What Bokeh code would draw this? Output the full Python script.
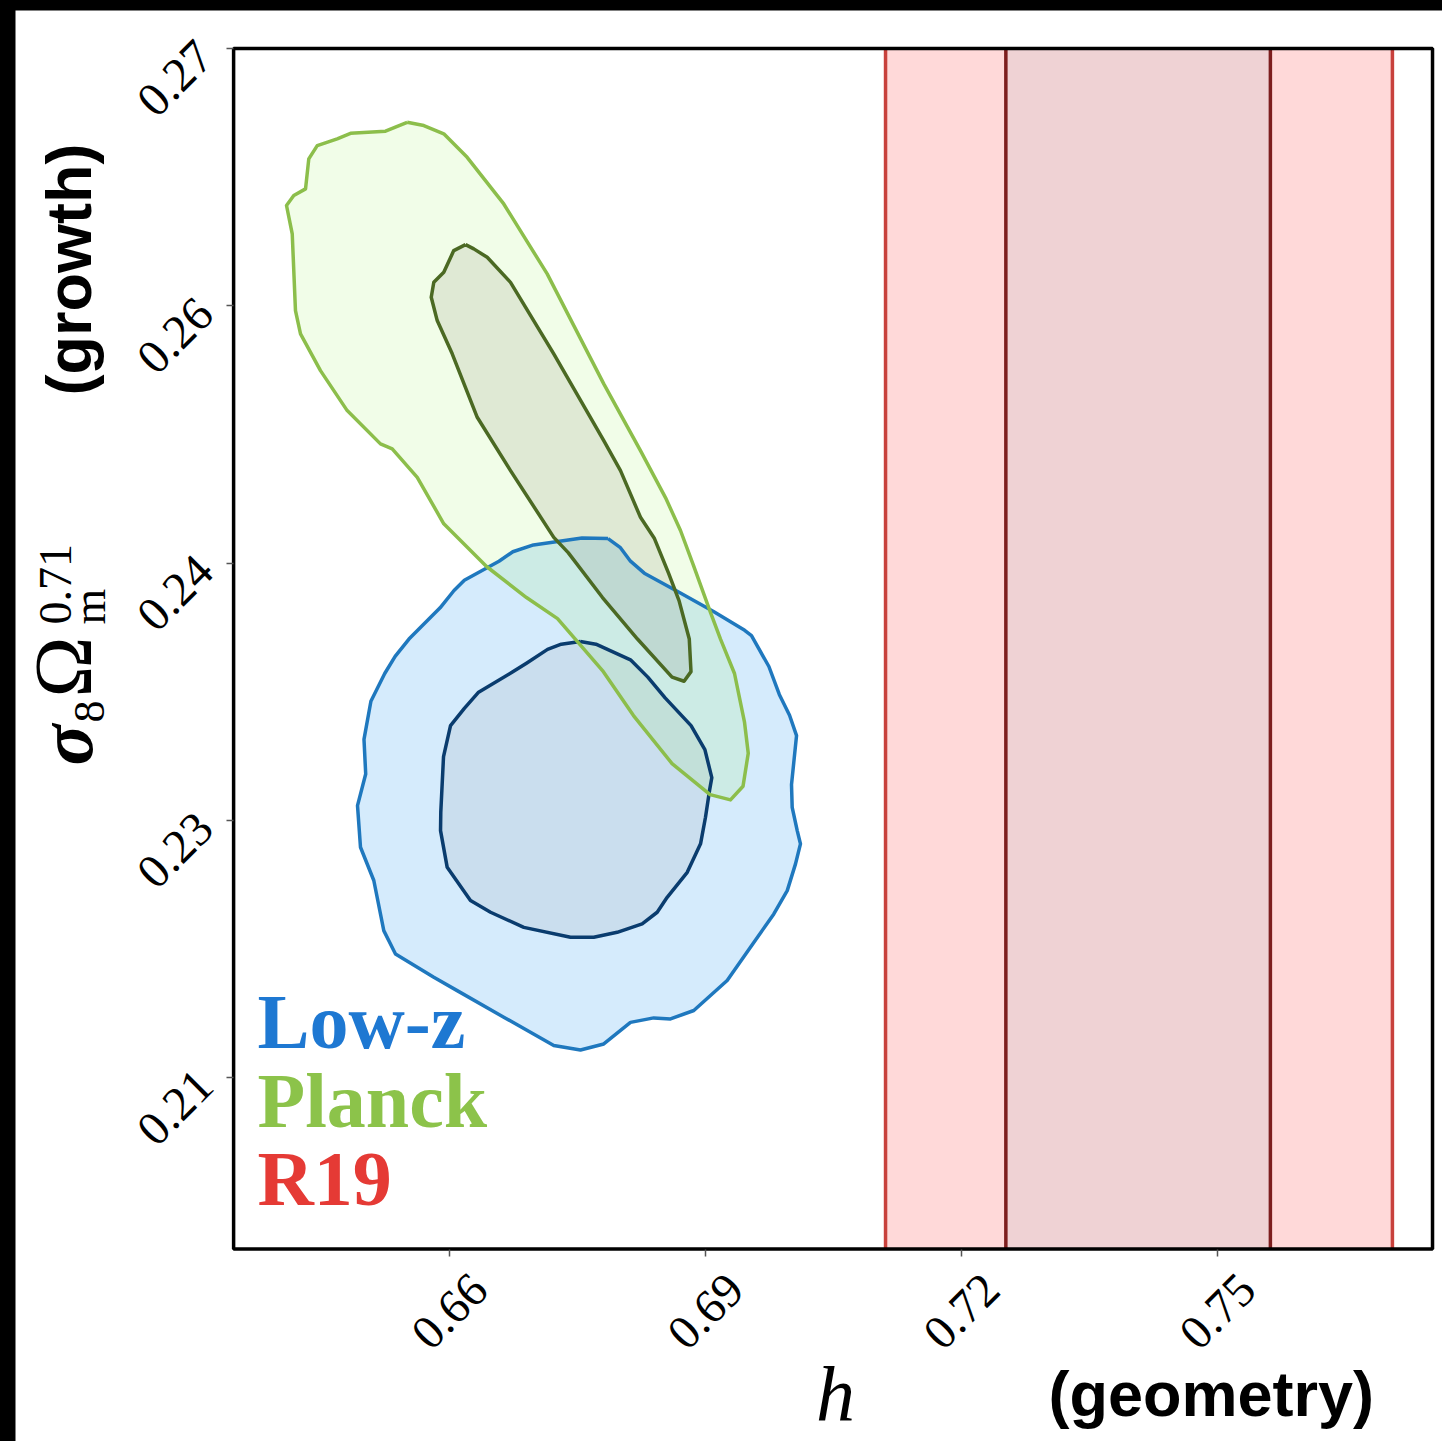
import math
from bokeh.plotting import figure
from bokeh.models import Range1d, FixedTicker, Label, LabelSet, ColumnDataSource
from bokeh.embed import file_html
from bokeh.resources import INLINE
from bokeh.core.properties import value

# ---------------- axis box / ticks ----------------
x_lo, x_hi = 0.6347, 0.7752          # plotted h range (box)
y_lo, y_hi = 0.2000, 0.2700          # plotted sigma8*Om^0.71 range (box)
x_view = (0.60914, 0.77637)          # whole canvas in data units (room for labels)
y_view = (0.18878, 0.27222)
x_ticks = [0.66, 0.69, 0.72, 0.75]
x_tick_labels = ["0.66", "0.69", "0.72", "0.75"]
y_ticks = [0.21, 0.225, 0.24, 0.255, 0.27]
y_tick_labels = ["0.21", "0.23", "0.24", "0.26", "0.27"]

# ---------------- Low-z contours ----------------
lowz_2sig_h = [0.67858, 0.67553, 0.67269, 0.66984, 0.66742, 0.66580, 0.66174, 0.66053, 0.65890, 0.65525,
               0.65363, 0.65241, 0.65079, 0.64998, 0.65018, 0.64922, 0.64957, 0.65113, 0.65230, 0.65367,
               0.65816, 0.66090, 0.66636, 0.67222, 0.67535, 0.67808, 0.68121, 0.68394, 0.68590, 0.68863,
               0.69254, 0.69527, 0.69801, 0.69958, 0.70055, 0.70113, 0.70075, 0.70016, 0.70008, 0.70067,
               0.69985, 0.69865, 0.69743, 0.69539, 0.69459, 0.69094, 0.68690, 0.68283, 0.68121, 0.67999]
lowz_2sig_s = [0.24143, 0.24146, 0.24126, 0.24106, 0.24066, 0.24011, 0.23900, 0.23840, 0.23739, 0.23557,
               0.23456, 0.23356, 0.23194, 0.22972, 0.22770, 0.22586, 0.22343, 0.22149, 0.21857, 0.21721,
               0.21585, 0.21507, 0.21352, 0.21187, 0.21161, 0.21196, 0.21322, 0.21348, 0.21342, 0.21391,
               0.21566, 0.21760, 0.21954, 0.22090, 0.22246, 0.22363, 0.22440, 0.22576, 0.22708, 0.22994,
               0.23113, 0.23234, 0.23397, 0.23577, 0.23608, 0.23718, 0.23830, 0.23941, 0.24011, 0.24092]
lowz_1sig_h = [0.67533, 0.67310, 0.67149, 0.66902, 0.66742, 0.66336, 0.66174, 0.66012, 0.65930, 0.65898,
               0.65895, 0.65973, 0.66246, 0.66481, 0.66871, 0.67418, 0.67691, 0.67965, 0.68258, 0.68434,
               0.68551, 0.68786, 0.68942, 0.69000, 0.69047, 0.69074, 0.68993, 0.68831, 0.68527, 0.68324,
               0.68121, 0.67716]
lowz_1sig_s = [0.23543, 0.23527, 0.23497, 0.23416, 0.23366, 0.23245, 0.23153, 0.23052, 0.22872, 0.22548,
               0.22440, 0.22226, 0.22032, 0.21964, 0.21876, 0.21818, 0.21818, 0.21847, 0.21896, 0.21964,
               0.22051, 0.22197, 0.22363, 0.22518, 0.22673, 0.22749, 0.22912, 0.23052, 0.23214, 0.23335,
               0.23436, 0.23527]

# ---------------- Planck contours ----------------
planck_2sig_h = [0.65504, 0.65250, 0.64840, 0.64684, 0.64450, 0.64351, 0.64313, 0.64175, 0.64090, 0.64157,
                 0.64195, 0.64254, 0.64488, 0.64801, 0.65191, 0.65329, 0.65622, 0.65933, 0.66434, 0.66902,
                 0.67266, 0.67793, 0.68156, 0.68608, 0.69054, 0.69293, 0.69440, 0.69501, 0.69457, 0.69340,
                 0.69176, 0.69054, 0.68860, 0.68707, 0.68531, 0.68238, 0.67808, 0.67145, 0.66636, 0.66207,
                 0.65933, 0.65699]
planck_2sig_s = [0.26570, 0.26518, 0.26506, 0.26474, 0.26434, 0.26357, 0.26182, 0.26143, 0.26085, 0.25920,
                 0.25472, 0.25336, 0.25122, 0.24889, 0.24695, 0.24666, 0.24500, 0.24229, 0.23980, 0.23799,
                 0.23676, 0.23373, 0.23111, 0.22831, 0.22650, 0.22619, 0.22699, 0.22891, 0.23073, 0.23356,
                 0.23557, 0.23718, 0.23985, 0.24190, 0.24382, 0.24656, 0.25045, 0.25686, 0.26094, 0.26366,
                 0.26503, 0.26551]
planck_1sig_h = [0.66188, 0.66050, 0.65933, 0.65816, 0.65786, 0.65856, 0.66032, 0.66325, 0.66715, 0.67222,
                 0.67391, 0.67793, 0.68203, 0.68608, 0.68749, 0.68830, 0.68810, 0.68690, 0.68567, 0.68402,
                 0.68238, 0.68004, 0.67808, 0.67222, 0.66715, 0.66442, 0.66285]
planck_1sig_s = [0.25857, 0.25822, 0.25696, 0.25637, 0.25550, 0.25414, 0.25220, 0.24850, 0.24539, 0.24150,
                 0.24061, 0.23799, 0.23557, 0.23335, 0.23311, 0.23367, 0.23557, 0.23781, 0.23941, 0.24143,
                 0.24267, 0.24539, 0.24714, 0.25220, 0.25637, 0.25783, 0.25832]

# ---------------- R19 (h only) ----------------
r19_2sig = [0.7111, 0.7705]
r19_1sig = [0.7252, 0.7562]

legend_names = ["Low-z", "Planck", "R19"]
legend_colors = ["#1E78D2", "#8CC34A", "#E53A35"]

# ---------------- figure: frame = whole canvas ----------------
p = figure(width=1427, height=1431, x_range=Range1d(*x_view), y_range=Range1d(*y_view),
           output_backend="svg", toolbar_location=None, title=None,
           min_border_left=0, min_border_right=0, min_border_top=0, min_border_bottom=0)
p.margin = (10, 0, 0, 15)
p.grid.visible = False
p.background_fill_color = "white"
p.border_fill_color = "white"
p.outline_line_color = None

p.xaxis.fixed_location = y_lo
p.yaxis.fixed_location = x_lo
for ax in (p.xaxis[0], p.yaxis[0]):
    ax.axis_line_color = None
    ax.major_tick_out = 7
    ax.major_tick_in = 0
    ax.major_tick_line_color = "#555555"
    ax.major_tick_line_width = 1.5
    ax.minor_tick_line_color = None

p.xaxis.ticker = FixedTicker(ticks=x_ticks)
p.xaxis.major_label_overrides = {t: "" for t in x_ticks}
p.yaxis.ticker = FixedTicker(ticks=y_ticks)
p.yaxis.major_label_overrides = dict(zip(y_ticks, y_tick_labels))
p.yaxis.major_label_orientation = math.pi / 4
p.yaxis.major_label_standoff = 22
p.yaxis.major_label_text_font = "Liberation Serif"
p.yaxis.major_label_text_font_size = "48px"
p.yaxis.major_label_text_color = "black"

# R19 bands inside the box
p.quad(left=[r19_2sig[0]], right=[r19_2sig[1]], bottom=[y_lo], top=[y_hi],
       fill_color="#FFD9D9", line_color=None)
p.quad(left=[r19_1sig[0]], right=[r19_1sig[1]], bottom=[y_lo], top=[y_hi],
       fill_color="#EFD2D4", line_color=None)
p.segment(x0=r19_2sig, y0=[y_lo] * 2, x1=r19_2sig, y1=[y_hi] * 2, line_color="#C8413C", line_width=3.5)
p.segment(x0=r19_1sig, y0=[y_lo] * 2, x1=r19_1sig, y1=[y_hi] * 2, line_color="#7D1E1E", line_width=3.5)

# contour fills
fills = [
    (lowz_2sig_h, lowz_2sig_s, "#2E9BF0", 0.20),
    (lowz_1sig_h, lowz_1sig_s, "#8C96A0", 0.15),
    (planck_2sig_h, planck_2sig_s, "#96F050", 0.13),
    (planck_1sig_h, planck_1sig_s, "#645A46", 0.12),
]
for hx, sy, c, a in fills:
    p.patch(hx, sy, fill_color=c, fill_alpha=a, line_color=None)

lines = [
    (lowz_2sig_h, lowz_2sig_s, "#1F78BE"),
    (lowz_1sig_h, lowz_1sig_s, "#0A3C6E"),
    (planck_2sig_h, planck_2sig_s, "#8CBE4B"),
    (planck_1sig_h, planck_1sig_s, "#4B6923"),
]
for hx, sy, c in lines:
    p.line(hx + hx[:1], sy + sy[:1], line_color=c, line_width=3.5, line_join="round")

# plot box
p.quad(left=[x_lo], right=[x_hi], bottom=[y_lo], top=[y_hi], fill_color=None,
       line_color="black", line_width=3.5)

# x tick labels, centred under ticks, rotated 45 deg
xt_src = ColumnDataSource(dict(x=x_ticks, y=[y_lo] * len(x_ticks), text=x_tick_labels))
p.add_layout(LabelSet(x="x", y="y", text="text", source=xt_src, angle=math.pi / 4,
                      text_align="center", text_baseline="middle", y_offset=-62,
                      text_font=value("Liberation Serif"), text_font_size=value("48px"),
                      text_color="black"))

# legend texts
for name, col, yy in zip(legend_names, legend_colors, [420, 341, 263]):
    p.add_layout(Label(x=242, y=yy, x_units="screen", y_units="screen", text=name,
                       text_font="Liberation Serif", text_font_style="bold",
                       text_font_size="78px", text_color=col, text_baseline="alphabetic"))

# x-axis label
p.add_layout(Label(x=820, y=47, x_units="screen", y_units="screen", text="h",
                   text_font="Liberation Serif", text_font_style="italic", text_font_size="78px",
                   text_color="black", text_baseline="alphabetic", text_align="center"))
p.add_layout(Label(x=1033, y=48, x_units="screen", y_units="screen", text="(geometry)",
                   text_font="Liberation Sans", text_font_style="bold", text_font_size="63px",
                   text_color="black", text_baseline="alphabetic"))

# y-axis label
p.add_layout(Label(x=53, y=1046, x_units="screen", y_units="screen", text="(growth)",
                   angle=math.pi / 2, text_font="Liberation Sans", text_font_style="bold",
                   text_font_size="63px", text_color="black", text_baseline="alphabetic"))
ylab_parts = [
    ("σ", 50, 676, "76px", "bold italic"),
    ("8", 74, 719, "44px", "normal"),
    ("Ω", 48, 744, "82px", "normal"),
    ("0.71", 40, 817, "46px", "normal"),
    ("m", 74, 817, "46px", "normal"),
]
for t, xx, yy, fs, st in ylab_parts:
    p.add_layout(Label(x=xx, y=yy, x_units="screen", y_units="screen", text=t, angle=math.pi / 2,
                       text_font="Liberation Serif", text_font_style=st, text_font_size=fs,
                       text_color="black", text_baseline="alphabetic"))

html = file_html(p, INLINE, "chart")
html = html.replace("</head>", "<style>html,body{background:#000000;}</style></head>", 1)
open("out.html", "w").write(html)
